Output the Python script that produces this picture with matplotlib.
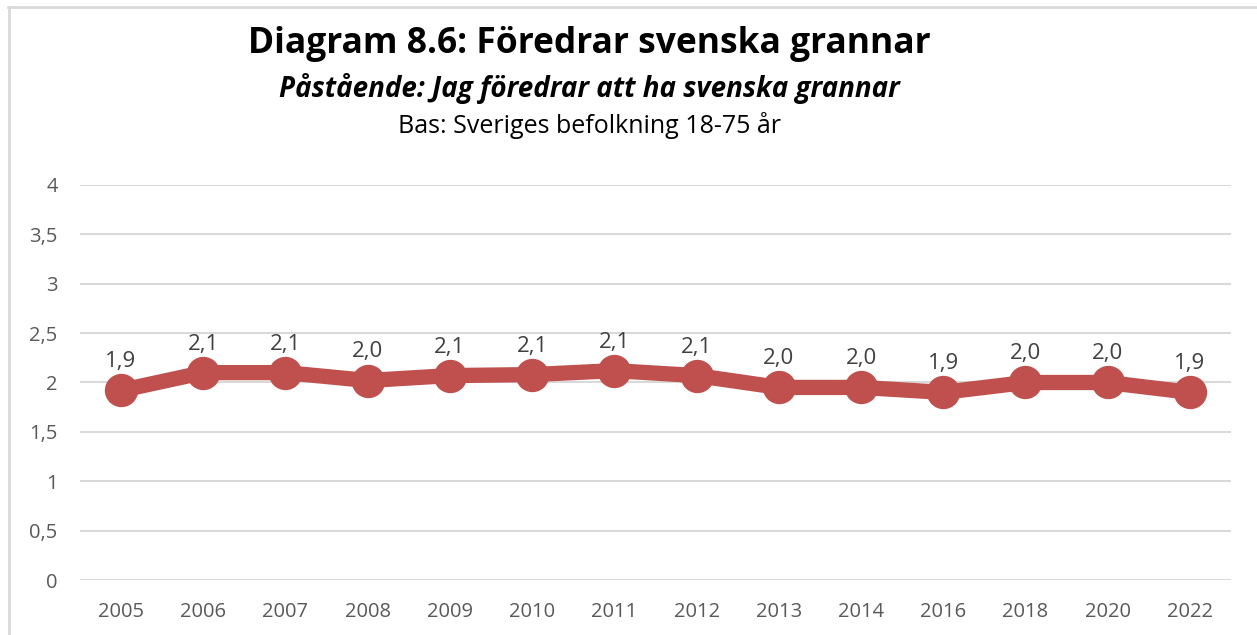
import matplotlib.pyplot as plt
from matplotlib.lines import Line2D

# data
years = ["2005", "2006", "2007", "2008", "2009", "2010", "2011",
         "2012", "2013", "2014", "2016", "2018", "2020", "2022"]
values = [1.92, 2.10, 2.10, 2.02, 2.07, 2.08, 2.12,
          2.07, 1.95, 1.95, 1.90, 2.00, 2.00, 1.90]
labels = ["1,9", "2,1", "2,1", "2,0", "2,1", "2,1", "2,1",
          "2,1", "2,0", "2,0", "1,9", "2,0", "2,0", "1,9"]
yticks = [0, 0.5, 1, 1.5, 2, 2.5, 3, 3.5, 4]
yticklabels = ["0", "0,5", "1", "1,5", "2", "2,5", "3", "3,5", "4"]

plt.rcParams['font.family'] = ['Open Sans', 'DejaVu Sans']

fig = plt.figure(figsize=(12.57, 6.35), dpi=100)
ax = fig.add_axes([0.0636, 0.0866, 0.9157, 0.6221])

x = list(range(len(years)))
ax.plot(x, values, color='#C0504D', linewidth=11, marker='o',
        markersize=23, solid_joinstyle='round', zorder=3)

for xi, v, lab in zip(x, values, labels):
    ax.annotate(lab, (xi, v), xytext=(0, 13), textcoords='offset points',
                ha='center', va='bottom', fontsize=16, color='#404040')

ax.set_xlim(-0.5, len(years) - 0.5)
ax.set_ylim(0, 4)
ax.set_yticks(yticks)
ax.set_yticklabels(yticklabels)
ax.set_xticks(x)
ax.set_xticklabels(years)
ax.tick_params(axis='both', length=0, labelsize=14.5, labelcolor='#595959')
ax.tick_params(axis='x', pad=16)
ax.tick_params(axis='y', pad=16)
ax.grid(axis='y', color='#D9D9D9', linewidth=1.5)
ax.set_axisbelow(True)
for s in ax.spines.values():
    s.set_visible(False)

# titles
fig.text(0.469, 0.930, "Diagram 8.6: Föredrar svenska grannar", ha='center',
         va='center', fontsize=25.5, fontweight='bold')
fig.text(0.469, 0.860, "Påstående: Jag föredrar att ha svenska grannar", ha='center',
         va='center', fontsize=20, fontweight='bold', fontstyle='italic')
fig.text(0.469, 0.803, "Bas: Sveriges befolkning 18-75 år", ha='center',
         va='center', fontsize=18)

# chart frame (top and left edges visible)
fig.add_artist(Line2D([8 / 1257, 1], [1 - 6.5 / 635, 1 - 6.5 / 635],
                      transform=fig.transFigure, color='#D9D9D9', linewidth=2))
fig.add_artist(Line2D([8.5 / 1257, 8.5 / 1257], [0, 1 - 6.5 / 635],
                      transform=fig.transFigure, color='#D9D9D9', linewidth=2))

fig.savefig('out.png', dpi=100)
